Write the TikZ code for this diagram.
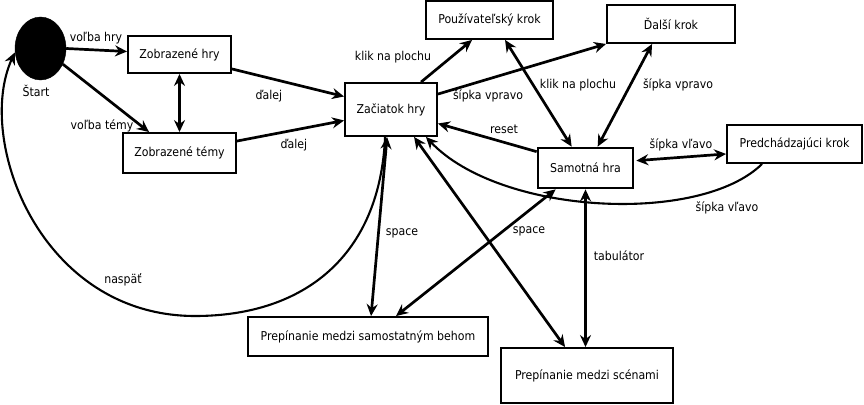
\documentclass[tikz,border=0pt]{standalone}
\usepackage{fontspec}
\setmainfont{DejaVu Sans Condensed}
\usetikzlibrary{shapes.geometric,arrows.meta,calc}
\begin{document}
\begin{tikzpicture}[x=1pt,y=-1pt,
  txt/.style={font=\fontsize{12.2}{14}\selectfont},
  box/.style={draw,line width=1.9pt,fill=white,inner sep=0pt,txt},
  lbl/.style={txt,inner sep=0pt},
  tip/.tip={Stealth[length=12pt,width=11pt,inset=4pt]},
  arr/.style={line width=2.7pt,-tip},
  darr/.style={line width=2.7pt,tip-tip},
  carr/.style={line width=2.1pt,-tip}]
\useasboundingbox (0,0) rectangle (864,404);

% nodes
\node[ellipse,draw,fill=black,minimum width=51pt,minimum height=63pt,inner sep=0pt] (start) at (40.5,48.5) {};
\node[lbl] (stl) at (36,91) {Štart};
\node[box,minimum width=103pt,minimum height=37pt] (zh) at (179.5,54.5) {Zobrazené hry};
\node[box,minimum width=113pt,minimum height=40pt] (zt) at (179.5,153) {Zobrazené témy};
\node[box,minimum width=92pt,minimum height=53pt] (zac) at (391,109.5) {Začiatok hry};
\node[box,minimum width=127pt,minimum height=38pt] (pk) at (489.5,20) {Používateľský krok};
\node[box,minimum width=128pt,minimum height=38pt] (dk) at (671,24) {Ďalší krok};
\node[box,line width=2.7pt,minimum width=95pt,minimum height=40pt] (sh) at (585.5,168) {Samotná hra};
\node[box,minimum width=135pt,minimum height=38pt] (prk) at (794.5,144) {Predchádzajúci krok};
\node[box,minimum width=240pt,minimum height=39pt] (psb) at (368,336.5) {Prepínanie medzi samostatným behom};
\node[box,minimum width=172pt,minimum height=55pt] (ps) at (587,375.5) {Prepínanie medzi scénami};

% connectors
\draw[arr] (start.east) -- ($(zh.west)+(0,-3)$);
\draw[arr] (start.-35) -- ($(zt.north west)+(27,0)$);
\draw[darr,line width=3.8pt] (zh.south) -- (zt.north);
\draw[arr] ($(zh.south east)+(0,-5)$) -- ($(zac.west)+(0,-13)$);
\draw[arr] ($(zt.north east)+(0,9)$) -- ($(zac.west)+(0,11)$);
\draw[arr] ($(zac.north west)+(77,0)$) -- ($(pk.south west)+(47,0)$);
\draw[arr] ($(zac.north east)+(0,12)$) -- (dk.south west);
\draw[darr] ($(pk.south west)+(80,0)$) -- ($(sh.north west)+(35,0)$);
\draw[darr] ($(dk.south west)+(46,0)$) -- ($(sh.north west)+(61,0)$);
\draw[arr] ($(sh.north west)+(0,5)$) -- ($(zac.east)+(0,14)$);
\draw[darr] ($(sh.north east)+(2,14)$) -- ($(prk.south west)+(0,-10)$);
\draw[carr] ($(prk.south west)+(36,0)$) .. controls (700,225) and (500,215) .. ($(zac.south east)+(-12,0)$);
\draw[darr] ($(zac.south west)+(43,0)$) -- ($(psb.north west)+(124,0)$);
\draw[darr] ($(sh.south west)+(19,0)$) -- ($(psb.north west)+(149,0)$);
\draw[darr] ($(zac.south west)+(70,0)$) -- ($(ps.north west)+(65,0)$);
\draw[darr] (sh.south) -- (sh.south |- ps.north);
\draw[carr] ($(zac.south west)+(41,0)$) .. controls (380,255) and (305,316) .. (195,316)
   .. controls (40,316) and (-25,140) .. ($(start.west)+(0,4)$);

% labels
\node[lbl] (l1) at (96,38) {voľba hry};
\node[lbl] (l2) at (102,126) {voľba témy};
\node[lbl] (l3) at (269,96) {ďalej};
\node[lbl] (l4) at (294,145) {ďalej};
\node[lbl] (l5) at (393,57) {klik na plochu};
\node[lbl] (l6) at (488,96) {šípka vpravo};
\node[lbl] (l7) at (578,85) {klik na plochu};
\node[lbl] (l8) at (678,85) {šípka vpravo};
\node[lbl] (l9) at (504,129) {reset};
\node[lbl] (l10) at (681,145) {šípka vľavo};
\node[lbl] (l11) at (727,208) {šípka vľavo};
\node[lbl] (l12) at (402,233) {space};
\node[lbl] (l13) at (529,231) {space};
\node[lbl] (l14) at (619,256) {tabulátor};
\node[lbl] (l15) at (123,280) {naspäť};
\end{tikzpicture}
\end{document}
